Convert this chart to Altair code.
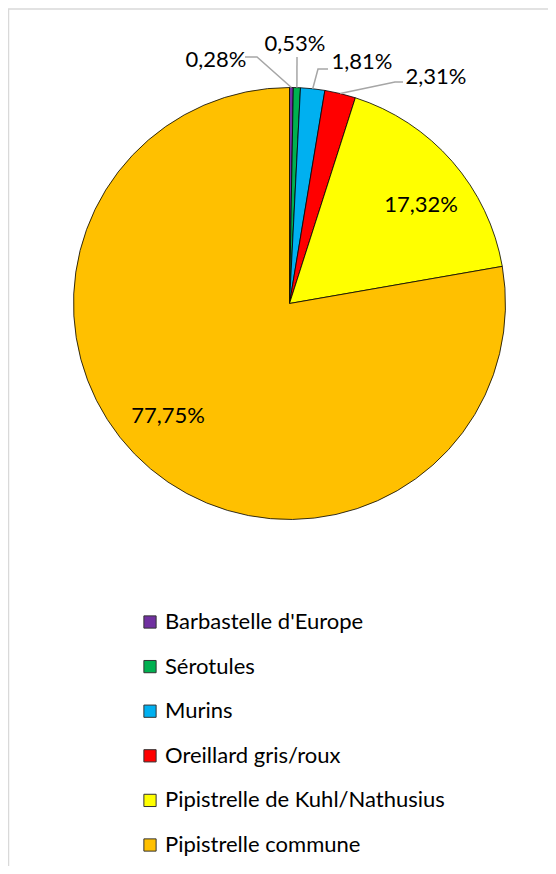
import math
import altair as alt
import pandas as pd

# ---- data ----
categories = ["Barbastelle d'Europe", "Sérotules", "Murins",
              "Oreillard gris/roux", "Pipistrelle de Kuhl/Nathusius",
              "Pipistrelle commune"]
values = [0.28, 0.53, 1.81, 2.31, 17.32, 77.75]
labels = ["0,28%", "0,53%", "1,81%", "2,31%", "17,32%", "77,75%"]
colors = ["#7030A0", "#00B050", "#00B0F0", "#FF0000", "#FFFF00", "#FFC000"]

# ---- layout ----
W, H = 540, 858
CX, CY, R = 281.5, 295.5, 216
FONT = "Lato"
FS = 22
# label positions relative to pie centre (px)
label_offset = {
    "0,28%": (-73.5, -243.5), "0,53%": (5.5, -259.5), "1,81%": (72.5, -241.5),
    "2,31%": (146.5, -226.5), "17,32%": (131.5, -98.5), "77,75%": (-121.5, 112.5),
}
# leader lines: start/elbow relative to the label centre, end at slice edge
leaders = {
    "0,28%": [(29, -3), (41, -3)],
    "0,53%": [(2, 13)],
    "1,81%": [(-34, 7), (-44, 7)],
    "2,31%": [(-33, 5), (-41, 5)],
}

total = sum(values)
df = pd.DataFrame({"cat": categories, "val": values, "idx": range(len(values))})

cum = 0
mids = {}
for lab, v in zip(labels, values):
    mids[lab] = (cum + v / 2) / total * 2 * math.pi
    cum += v

lab_df = pd.DataFrame({
    "label": labels,
    "lx": [CX + label_offset[l][0] for l in labels],
    "ly": [CY + label_offset[l][1] for l in labels],
})

rows = []
for lab, pts in leaders.items():
    lx, ly = CX + label_offset[lab][0], CY + label_offset[lab][1]
    k = 0
    for dx, dy in pts:
        rows.append({"label": lab, "k": k, "x": lx + dx, "y": ly + dy})
        k += 1
    a = mids[lab]
    rows.append({"label": lab, "k": k, "x": CX + R * math.sin(a), "y": CY - R * math.cos(a)})
lead_df = pd.DataFrame(rows)

border = pd.DataFrame({"x": [W + 20, 0.5, 0.5], "y": [1, 1, H + 20], "k": [0, 1, 2]})

pie = alt.Chart(df).mark_arc(radius=R, stroke="black", strokeWidth=0.8).encode(
    theta=alt.Theta("val:Q", stack=True),
    order=alt.Order("idx:Q"),
    color=alt.Color("cat:N", scale=alt.Scale(domain=categories, range=colors),
                    sort=categories,
                    legend=alt.Legend(
                        title=None, orient="none", legendX=131, legendY=603,
                        symbolType="square", symbolSize=150, symbolStrokeColor="#333333",
                        symbolStrokeWidth=1, labelFont=FONT, labelFontSize=FS,
                        labelColor="black", rowPadding=22.6, labelOffset=4,
                        padding=0, labelLimit=400)),
    x=alt.value(CX), y=alt.value(CY),
)

leader_lines = alt.Chart(lead_df).mark_line(color="#a6a6a6", strokeWidth=1.5).encode(
    x=alt.X("x:Q", scale=None), y=alt.Y("y:Q", scale=None),
    detail="label:N", order="k:Q",
)

texts = alt.Chart(lab_df).mark_text(font=FONT, fontSize=FS, color="black",
                                    align="center", baseline="middle").encode(
    x=alt.X("lx:Q", scale=None), y=alt.Y("ly:Q", scale=None), text="label:N",
)

frame = alt.Chart(border).mark_line(color="#d9d9d9", strokeWidth=1.5).encode(
    x=alt.X("x:Q", scale=None), y=alt.Y("y:Q", scale=None), order="k:Q",
)

chart = alt.layer(frame, pie, leader_lines, texts).properties(
    width=W, height=H, padding=0, autosize=alt.AutoSizeParams(type="none"),
).configure_view(stroke=None)

chart.save("out.html", embed_options={"renderer": "svg", "actions": False})
